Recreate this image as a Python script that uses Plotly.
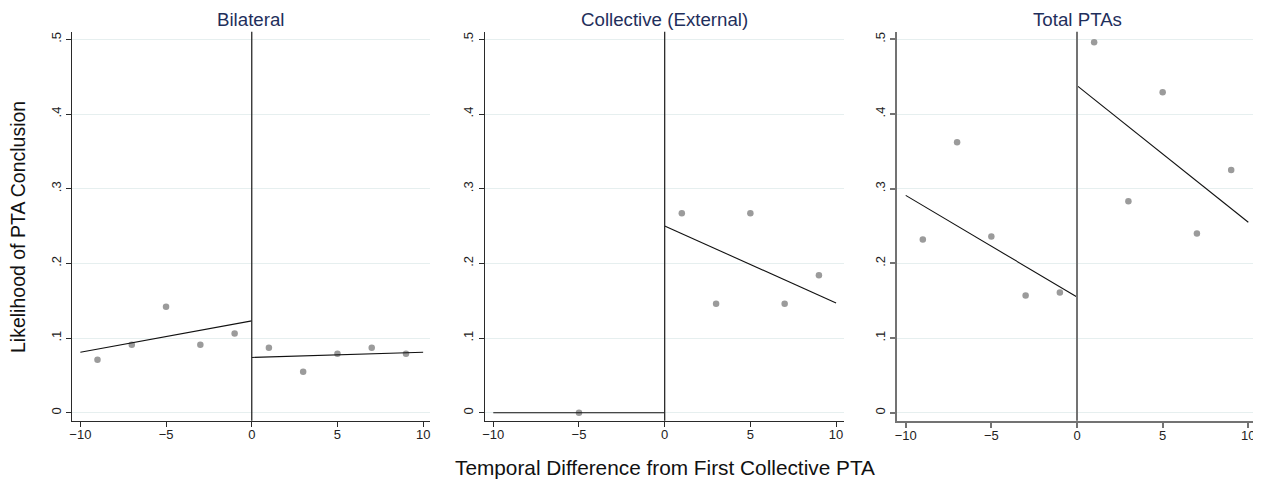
import plotly.graph_objects as go

# ---- data ----
panel_titles = ["Bilateral", "Collective (External)", "Total PTAs"]

bil_x = [-9, -7, -5, -3, -1, 1, 3, 5, 7, 9]
bil_y = [0.071, 0.091, 0.142, 0.091, 0.106, 0.087, 0.055, 0.079, 0.087, 0.079]
bil_fit_left_x = [-10, 0]
bil_fit_left_y = [0.081, 0.123]
bil_fit_right_x = [0, 10]
bil_fit_right_y = [0.074, 0.081]

col_x = [-5, 1, 3, 5, 7, 9]
col_y = [0.0, 0.267, 0.146, 0.267, 0.146, 0.184]
col_fit_left_x = [-10, 0]
col_fit_left_y = [0.0, 0.0]
col_fit_right_x = [0, 10]
col_fit_right_y = [0.250, 0.147]

tot_x = [-9, -7, -5, -3, -1, 1, 3, 5, 7, 9]
tot_y = [0.232, 0.362, 0.236, 0.157, 0.161, 0.496, 0.283, 0.429, 0.240, 0.325]
tot_fit_left_x = [-10, 0]
tot_fit_left_y = [0.291, 0.155]
tot_fit_right_x = [0, 10]
tot_fit_right_y = [0.438, 0.255]

x_tickvals = [-10, -5, 0, 5, 10]
x_ticktext = ["\u221210", "\u22125", "0", "5", "10"]
y_tickvals = [0, 0.1, 0.2, 0.3, 0.4, 0.5]
y_ticktext = ["0", ".1", ".2", ".3", ".4", ".5"]

y_title = "Likelihood of PTA Conclusion"
x_title = "Temporal Difference from First Collective PTA"

panels = [
    (bil_x, bil_y, bil_fit_left_x, bil_fit_left_y, bil_fit_right_x, bil_fit_right_y),
    (col_x, col_y, col_fit_left_x, col_fit_left_y, col_fit_right_x, col_fit_right_y),
    (tot_x, tot_y, tot_fit_left_x, tot_fit_left_y, tot_fit_right_x, tot_fit_right_y),
]

# ---- layout geometry (page has an 8px body margin) ----
OFF = 8
W, H = 1261 - OFF, 483 - OFF


def px_x(v):
    return (v - OFF) / W


def px_y(v):
    return (H - (v - OFF)) / H


x_domains = [[px_x(72.3), px_x(430)], [px_x(484.7), px_x(844.3)], [px_x(897.3), px_x(1256.7)]]
y_domain = [px_y(420.7), px_y(31.7)]
x_ranges = [[-10.47, 10.40], [-10.50, 10.48], [-10.49, 10.49]]
y_range = [-0.0107, 0.5102]
axis_colors = ["#2a2a2a", "#2a2a2a", "#737373"]
axis_widths = [1.3, 1.3, 2]

FONT = "Liberation Sans, Arial, sans-serif"
DOT = "#9b9b9b"
GRID = "#e6efef"
TITLE_C = "#1f2f5c"

fig = go.Figure()
layout = dict(
    width=W, height=H,
    margin=dict(l=0, r=0, t=0, b=0),
    paper_bgcolor="white", plot_bgcolor="white",
    showlegend=False,
    font=dict(family=FONT, size=13, color="#222222"),
)

shapes = []
annotations = []
for i, (px, py, lx, ly, rx, ry) in enumerate(panels):
    n = "" if i == 0 else str(i + 1)
    xa, ya = "x" + n, "y" + n
    fig.add_trace(go.Scatter(x=px, y=py, mode="markers", xaxis=xa, yaxis=ya,
                             marker=dict(size=6.5, color=DOT), hoverinfo="skip"))
    fig.add_trace(go.Scatter(x=lx, y=ly, mode="lines", xaxis=xa, yaxis=ya,
                             line=dict(color="#111111", width=1.1), hoverinfo="skip"))
    fig.add_trace(go.Scatter(x=rx, y=ry, mode="lines", xaxis=xa, yaxis=ya,
                             line=dict(color="#111111", width=1.1), hoverinfo="skip"))
    ac, aw = axis_colors[i], axis_widths[i]
    layout["xaxis" + n] = dict(
        domain=x_domains[i], range=x_ranges[i], anchor=ya,
        tickvals=x_tickvals, ticktext=x_ticktext,
        showgrid=False, zeroline=False, showline=True, linecolor=ac, linewidth=aw,
        ticks="outside", ticklen=5, tickcolor=ac, tickwidth=aw,
        tickfont=dict(family=FONT, size=13, color="#222222"),
        ticklabelstandoff=-3,
        automargin=False,
    )
    layout["yaxis" + n] = dict(
        domain=y_domain, range=y_range, anchor=xa,
        tickvals=y_tickvals, ticktext=y_ticktext, tickangle=-90,
        showgrid=True, gridcolor=GRID, gridwidth=1, zeroline=False,
        showline=True, linecolor=ac, linewidth=aw,
        ticks="outside", ticklen=5, tickcolor=ac, tickwidth=aw,
        tickfont=dict(family=FONT, size=13, color="#222222"),
        automargin=False,
    )
    shapes.append(dict(type="line", xref=xa, yref=ya + " domain", x0=0, x1=0, y0=0, y1=1,
                       line=dict(color=ac, width=aw), layer="above"))
    annotations.append(dict(text=panel_titles[i], xref="paper", yref="paper",
                            x=(x_domains[i][0] + x_domains[i][1]) / 2, y=1.0,
                            xanchor="center", yanchor="top", borderpad=0, showarrow=False,
                            font=dict(family=FONT, size=18.7, color=TITLE_C)))

annotations.append(dict(text=y_title, xref="paper", yref="paper", x=px_x(18.5), y=px_y(227.5),
                        xanchor="center", yanchor="middle", textangle=-90, showarrow=False,
                        font=dict(family=FONT, size=19.5, color="#111111")))
annotations.append(dict(text=x_title, xref="paper", yref="paper", x=px_x(664.5), y=px_y(467),
                        xanchor="center", yanchor="middle", showarrow=False,
                        font=dict(family=FONT, size=20.8, color="#111111")))

layout["shapes"] = shapes
layout["annotations"] = annotations
fig.update_layout(**layout)
fig.write_html("out.html")
